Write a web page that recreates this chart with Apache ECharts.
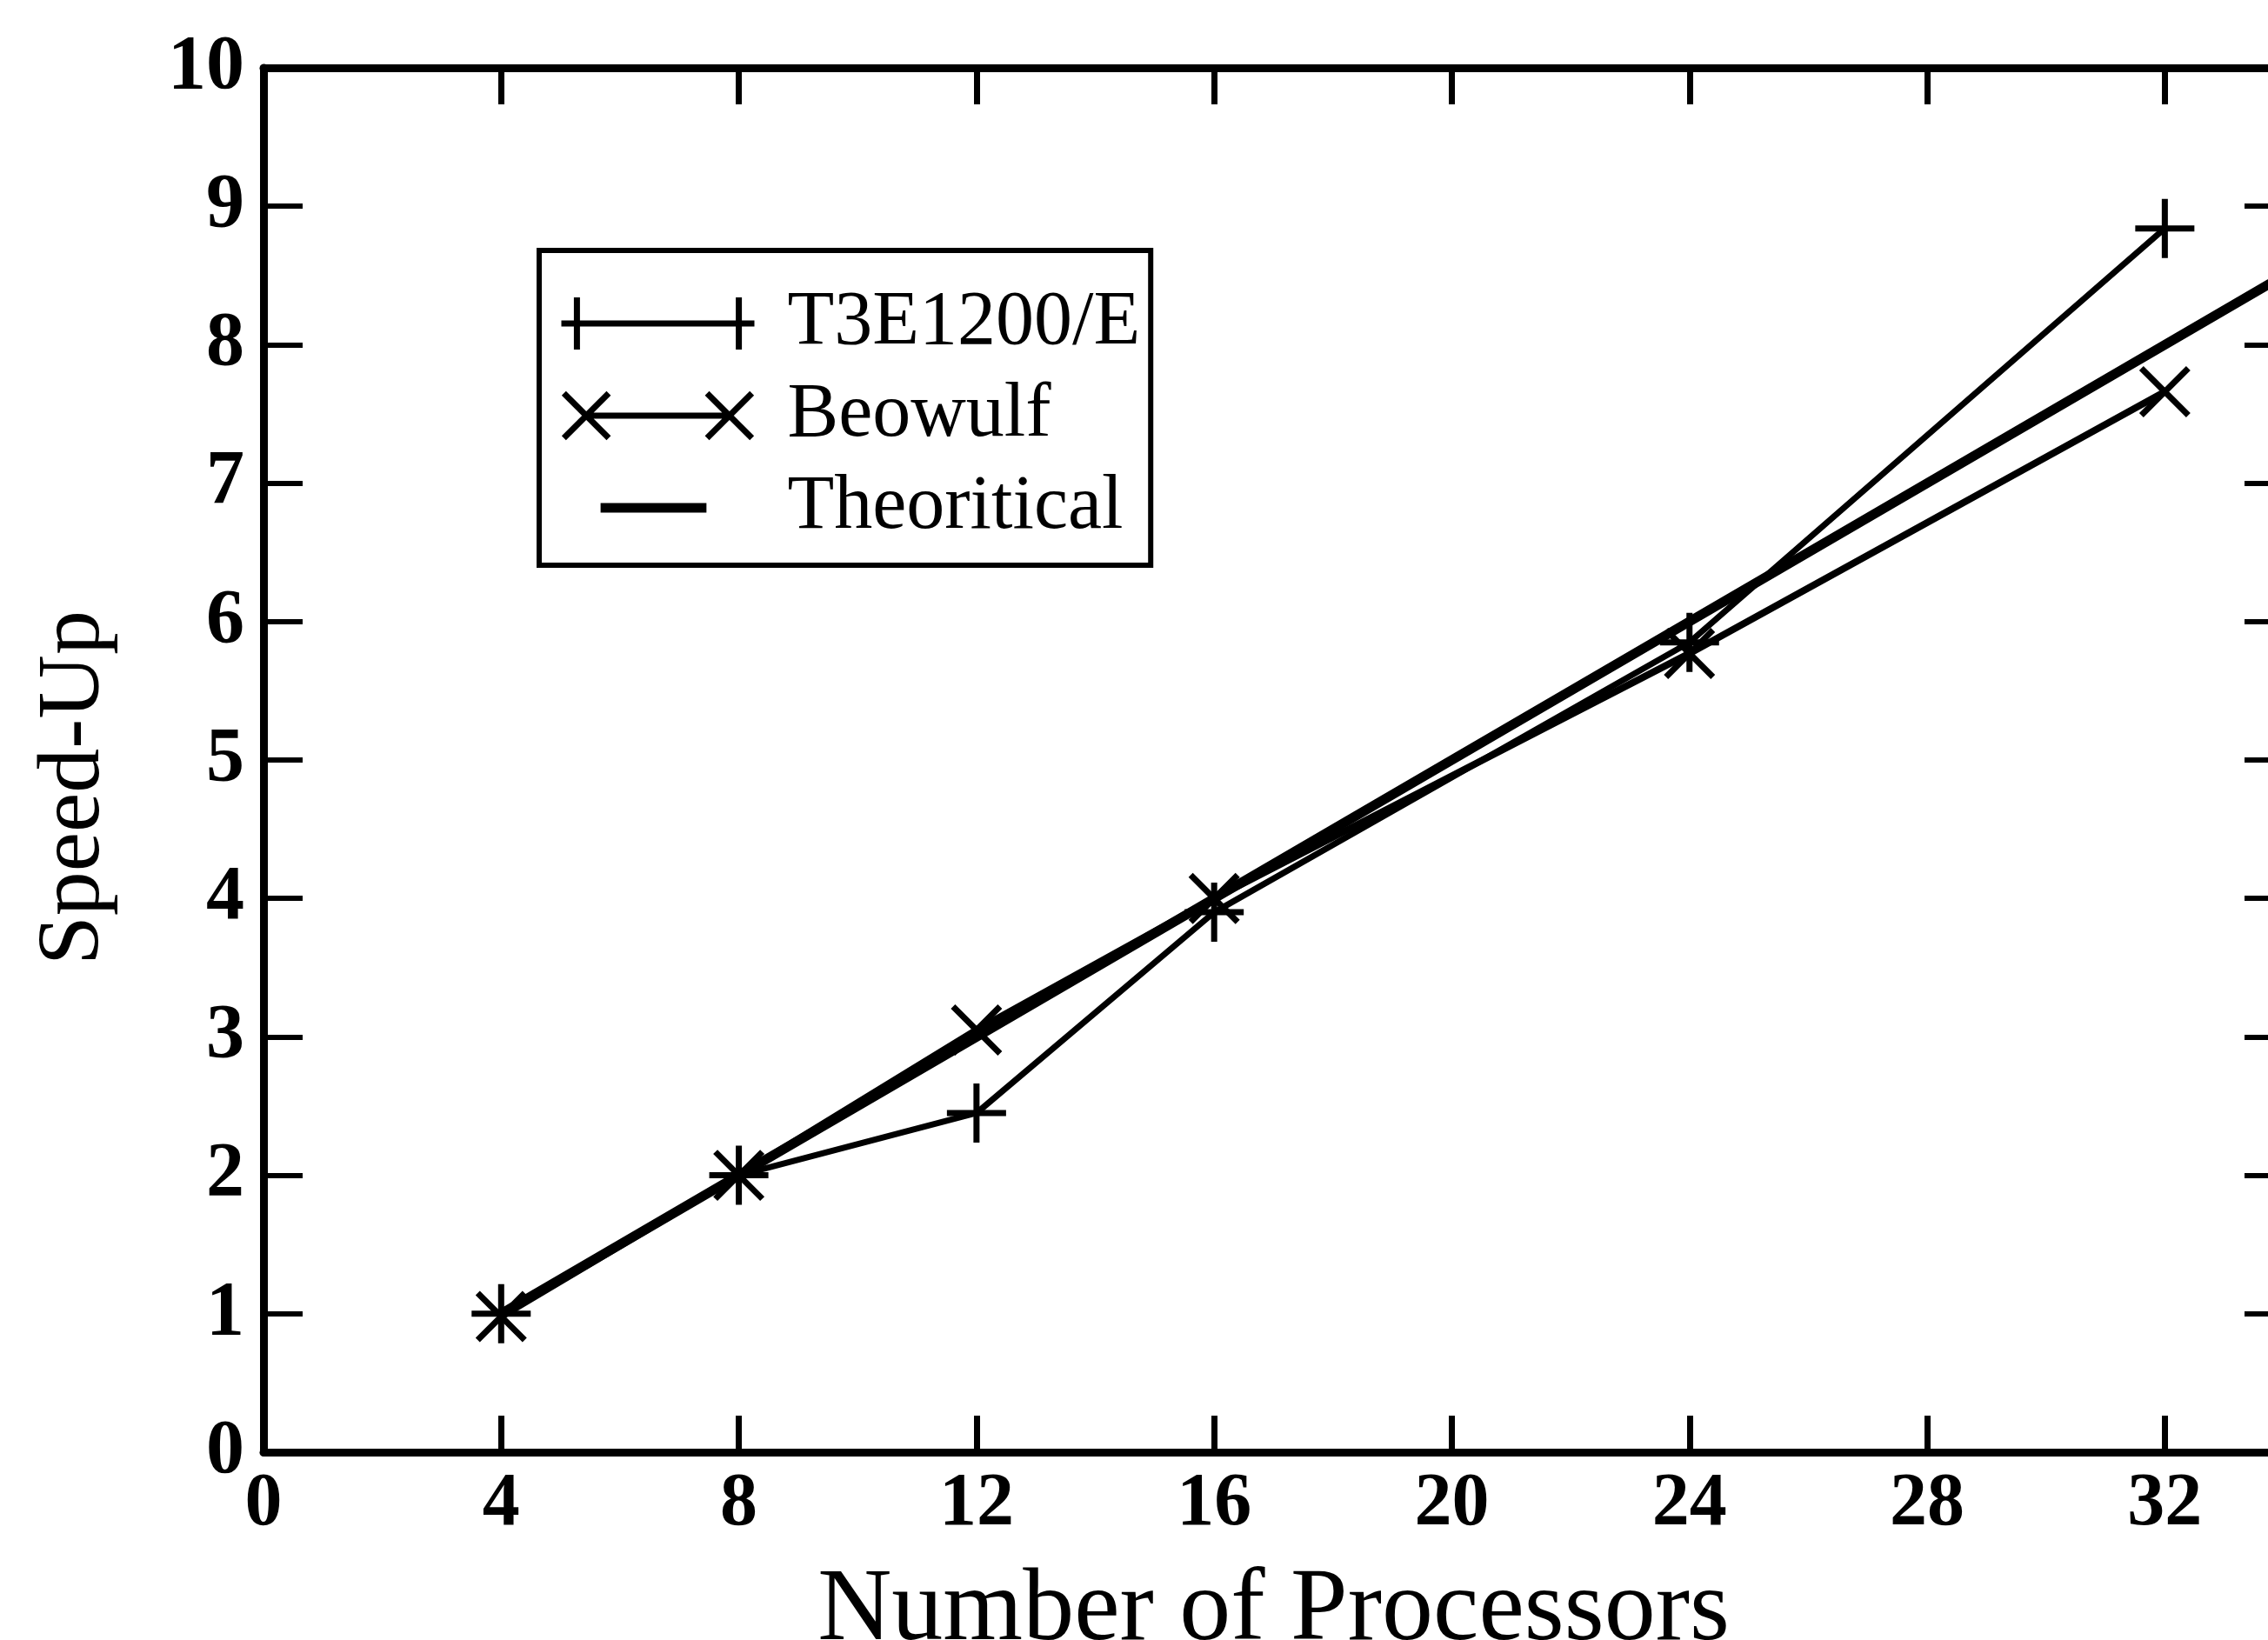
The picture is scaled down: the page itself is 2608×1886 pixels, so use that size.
<!DOCTYPE html>
<html>
<head>
<meta charset="utf-8">
<script src="https://cdn.jsdelivr.net/npm/echarts/dist/echarts.min.js"></script>
<style>
html, body { margin: 0; background: #fff; }
#speedup { width: 2608px; height: 1886px; }
</style>
</head>
<body>
<div id="speedup"></div>
<script>
// data
var processors = [4, 8, 12, 16, 24, 32];
var t3eSpeedup = [1.0, 2.0, 2.45, 3.9, 5.85, 8.84];
var beowulfSpeedup = [0.98, 2.0, 3.05, 4.0, 5.77, 7.66];
var theoProcessors = [4, 8, 12, 16, 24, 32, 36];
var theoSpeedup = [1, 2, 3, 4, 6, 8, 9];
var seriesNames = ['T3E1200/E', 'Beowulf', 'Theoritical'];

function pairs(xs, ys) {
    return xs.map(function (x, i) { return [x, ys[i]]; });
}

var serif = 'Liberation Serif';
var plusPath = 'path://M5,0L5,10M0,5L10,5';
var crossPath = 'path://M0,0L10,10M10,0L0,10';

var speedupChart = echarts.init(document.getElementById('speedup'));

var axisLineStyle = { show: true, onZero: false, lineStyle: { color: '#000', width: 9 } };
var xTickStyle = { show: true, inside: true, length: 42, lineStyle: { color: '#000', width: 7 } };
var yTickStyle = { show: true, inside: true, length: 45, lineStyle: { color: '#000', width: 6 } };

var optionSpeedup = {
    animation: false,
    backgroundColor: '#fff',
    grid: {
        left: 303,
        top: 78,
        bottom: 216,
        right: -18,
        containLabel: false,
        outerBoundsMode: 'none',
    },
    legend: {
        orient: 'vertical',
        left: 620,
        top: 288,
        padding: [40, 12, 22, 20],
        borderColor: '#000',
        borderWidth: 6,
        itemWidth: 222,
        itemHeight: 72,
        itemGap: 18,
        textStyle: {
            fontFamily: serif,
            fontSize: 88,
            color: '#000',
            padding: [0, 0, 0, 33],
        },
        data: [
            {
                name: seriesNames[0],
                icon: 'path://M0,0M31,10M0,5L31,5M2.5,0.8L2.5,9.2M28.5,0.8L28.5,9.2',
                itemStyle: { color: 'transparent', borderColor: '#000', borderWidth: 7 },
            },
            {
                name: seriesNames[1],
                icon: 'path://M0,0M31,10M4,5L27,5M0.4,1.4L7.6,8.6M0.4,8.6L7.6,1.4M23.4,1.4L30.6,8.6M23.4,8.6L30.6,1.4',
                itemStyle: { color: 'transparent', borderColor: '#000', borderWidth: 7 },
            },
            {
                name: seriesNames[2],
                icon: 'path://M0,0M31,10M6.3,5L23.3,5',
                itemStyle: { color: 'transparent', borderColor: '#000', borderWidth: 11 },
            },
        ],
    },
    xAxis: [
        {
            type: 'value',
            position: 'bottom',
            min: 0,
            max: 34,
            interval: 4,
            axisLine: axisLineStyle,
            axisTick: xTickStyle,
            splitLine: { show: false },
            axisLabel: {
                fontFamily: serif,
                fontWeight: 'bold',
                fontSize: 86,
                color: '#000',
                margin: 18,
                showMaxLabel: false,
            },
            name: 'Number of Processors',
            nameLocation: 'middle',
            nameGap: 125,
            nameMoveOverlap: false,
            nameTextStyle: { fontFamily: serif, fontSize: 118, color: '#000' },
        },
        {
            type: 'value',
            position: 'top',
            min: 0,
            max: 34,
            interval: 4,
            axisLine: axisLineStyle,
            axisTick: xTickStyle,
            splitLine: { show: false },
            axisLabel: { show: false },
        },
    ],
    yAxis: [
        {
            type: 'value',
            position: 'left',
            min: 0,
            max: 10,
            interval: 1,
            axisLine: axisLineStyle,
            axisTick: yTickStyle,
            splitLine: { show: false },
            axisLabel: {
                fontFamily: serif,
                fontWeight: 'bold',
                fontSize: 88,
                color: '#000',
                margin: 22,
            },
            name: 'Speed-Up',
            nameLocation: 'middle',
            nameGap: 166,
            nameMoveOverlap: false,
            nameTextStyle: { fontFamily: serif, fontSize: 102, color: '#000', padding: [0, 64, 0, 0] },
        },
        {
            type: 'value',
            position: 'right',
            min: 0,
            max: 10,
            interval: 1,
            axisLine: axisLineStyle,
            axisTick: yTickStyle,
            splitLine: { show: false },
            axisLabel: { show: false },
        },
    ],
    series: [
        {
            name: seriesNames[0],
            type: 'line',
            data: pairs(processors, t3eSpeedup),
            symbol: plusPath,
            symbolSize: 68,
            itemStyle: { color: '#000', borderColor: '#000', borderWidth: 7 },
            lineStyle: { color: '#000', width: 7 },
            z: 3,
        },
        {
            name: seriesNames[1],
            type: 'line',
            data: pairs(processors, beowulfSpeedup),
            symbol: crossPath,
            symbolSize: 54,
            itemStyle: { color: '#000', borderColor: '#000', borderWidth: 7 },
            lineStyle: { color: '#000', width: 8 },
            z: 3,
        },
        {
            name: seriesNames[2],
            type: 'line',
            data: pairs(theoProcessors, theoSpeedup),
            symbol: 'none',
            itemStyle: { color: '#000', borderColor: '#000', borderWidth: 11 },
            lineStyle: { color: '#000', width: 11 },
            clip: true,
            z: 2,
        },
    ],
};

speedupChart.setOption(optionSpeedup);
</script>
</body>
</html>
